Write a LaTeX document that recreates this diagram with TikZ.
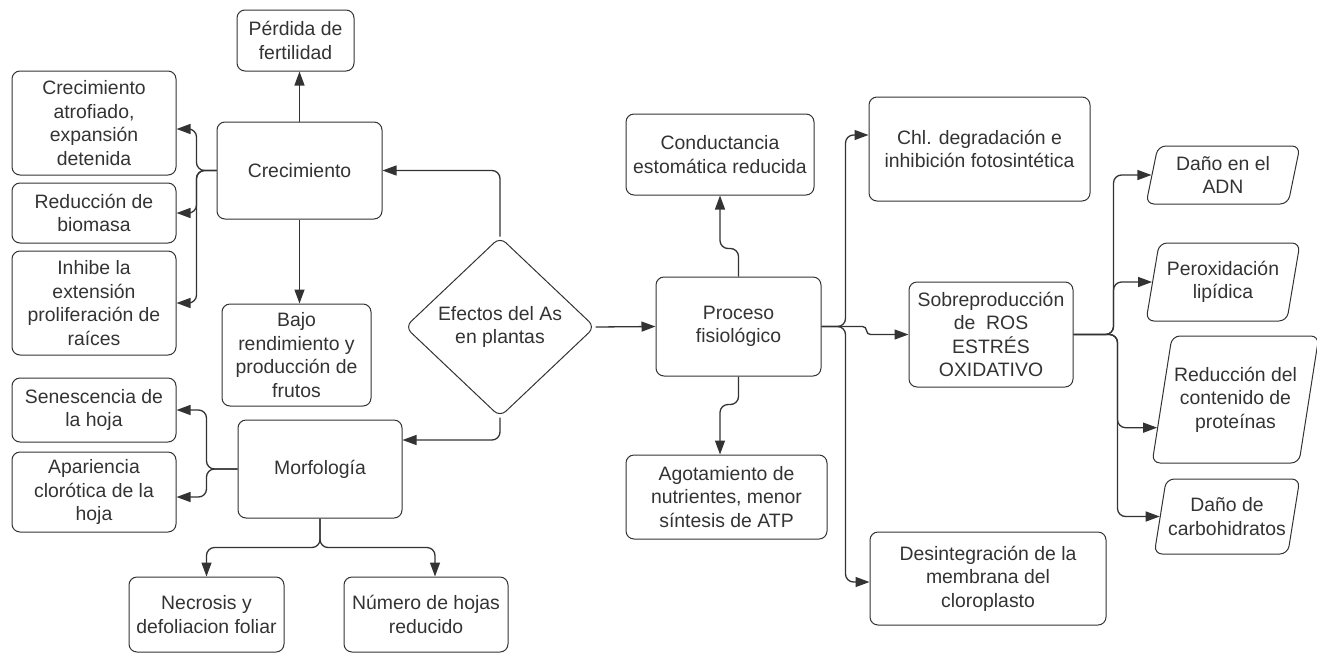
\documentclass[tikz,border=0pt]{standalone}
\usepackage{fontspec}
\setmainfont{Liberation Sans}
\usetikzlibrary{shapes.geometric,arrows.meta,calc}
\definecolor{ink}{HTML}{333333}

\begin{document}
\begin{tikzpicture}[
    x=0.5pt, y=-0.5pt,
    box/.style={draw=ink, rounded corners=4pt, line width=0.5pt, align=center, inner sep=1pt, text=ink, font=\fontsize{9.7}{11.8}\selectfont},
    para/.style={box, trapezium, trapezium left angle=74, trapezium right angle=106, trapezium stretches body},
    decision/.style={box, diamond, inner sep=0pt},
    conn/.style={draw=ink, line width=0.65pt, rounded corners=4pt, -{Triangle[length=7pt,width=5pt]}}
]
\useasboundingbox (0,0) rectangle (1317,654);

% Define left nodes
\node[box, minimum width=58.5pt, minimum height=30.5pt] (perdida) at (295.5,40.5) {Pérdida de\\fertilidad};
\node[box, minimum width=82pt, minimum height=52pt] (atrofiado) at (94,123) {Crecimiento\\atrofiado,\\expansión\\detenida};
\node[box, minimum width=82pt, minimum height=30pt] (biomasa) at (94,213) {Reducción de\\biomasa};
\node[box, minimum width=82pt, minimum height=52pt] (raices) at (94,303) {Inhibe la\\extensión\\proliferación de\\raíces};
\node[box, minimum width=82.5pt, minimum height=48.5pt] (crecimiento) at (299.5,170.5) {Crecimiento};
\node[box, minimum width=74.5pt, minimum height=51pt] (bajo) at (296.5,355) {Bajo\\rendimiento y\\producción de\\frutos};
\node[box, minimum width=82pt, minimum height=32pt] (senescencia) at (94,410) {Senescencia de\\la hoja};
\node[box, minimum width=82pt, minimum height=40pt] (apariencia) at (94,492) {Apariencia\\clorótica de la\\hoja};
\node[box, minimum width=82pt, minimum height=49pt] (morfologia) at (320,469) {Morfología};
\node[box, minimum width=77.5pt, minimum height=37.5pt] (necrosis) at (206.5,614.5) {Necrosis y\\defoliacion foliar};
\node[box, minimum width=82pt, minimum height=37.5pt] (numero) at (426,614.5) {Número de hojas\\reducido};

% Define centre nodes
\node[decision, minimum width=95pt, minimum height=90pt] (efectos) at (500,327) {Efectos del As\\en plantas};
\node[box, minimum width=82.5pt, minimum height=49.5pt] (proceso) at (738.5,326.5) {Proceso\\fisiológico};
\node[box, minimum width=94pt, minimum height=40.5pt] (conductancia) at (720,154.5) {Conductancia\\estomática reducida};
\node[box, minimum width=100.5pt, minimum height=42pt] (agotamiento) at (726.5,497) {Agotamiento de\\nutrientes, menor\\síntesis de ATP};

% Define right nodes
\node[box, minimum width=110.5pt, minimum height=52pt] (chl) at (979.5,149) {Chl. degradación e\\inhibición fotosintética};
\node[box, minimum width=82pt, minimum height=52.5pt] (sobre) at (991,334.5) {Sobreproducción\\de~ ROS\\ESTRÉS\\OXIDATIVO};
\node[box, minimum width=118pt, minimum height=46.5pt] (desintegracion) at (988,578.5) {Desintegración de la\\membrana del\\cloroplasto};
\node[para, minimum width=77pt, minimum height=29pt] (adn) at (1223,175) {Daño en el\\ADN};
\node[para, minimum width=77pt, minimum height=39pt] (peroxidacion) at (1223,282) {Peroxidación\\lipídica};
\node[para, minimum width=81.5pt, minimum height=63.5pt] (proteinas) at (1235.5,399.5) {Reducción del\\contenido de\\proteínas};
\node[para, minimum width=72pt, minimum height=37.5pt] (carbohidratos) at (1227,516.5) {Daño de\\carbohidratos};

% Define connectors
\draw[conn] (crecimiento.north) -- (crecimiento.north |- perdida.south);
\draw[conn] (crecimiento.south) -- (crecimiento.south |- bajo.north);
\draw[conn] (crecimiento.west) -- ++(-20,0) |- ($(atrofiado.east)+(0,6)$);
\draw[conn] (crecimiento.west) -- ++(-20,0) |- (biomasa.east);
\draw[conn] (crecimiento.west) -- ++(-20,0) |- (raices.east);
\draw[conn] (morfologia.west) -- ++(-31,0) |- (senescencia.east);
\draw[conn] (morfologia.west) -- ++(-31,0) |- ($(apariencia.east)+(0,5)$);
\draw[conn] (morfologia.south) -- ++(0,29) -| (necrosis.north);
\draw[conn] (morfologia.south) -- ++(0,29) -| ($(numero.north)+(9,0)$);
\draw[conn] (efectos.north) |- (crecimiento.east);
\draw[conn] (efectos.south) |- ($(morfologia.east)+(0,-29)$);
\draw[conn] (efectos.east) -- (proceso.west);
\draw[conn] (proceso.north) -- ++(0,-28) -| (conductancia.south);
\draw[conn] (proceso.south) -- ++(0,28) -| ($(agotamiento.north)+(-6.5,0)$);
\draw[conn] (proceso.east) -- ++(24,0) |- ($(chl.west)+(0,-14)$);
\draw[conn] (proceso.east) -- ++(24,0) |- ($(desintegracion.west)+(0,3.5)$);
\draw[conn, rounded corners=2pt] (proceso.east) -- ++(45,0) |- (sobre.west);
\draw[conn] (sobre.east) -- ++(40,0) |- (adn.west);
\draw[conn] (sobre.east) -- ++(40,0) |- (peroxidacion.west);
\draw[conn] (sobre.east) -- ++(44,0) |- ($(proteinas.bottom left corner)!0.28!(proteinas.top left corner)$);
\draw[conn] (sobre.east) -- ++(44,0) |- (carbohidratos.west);

\end{tikzpicture}
\end{document}
